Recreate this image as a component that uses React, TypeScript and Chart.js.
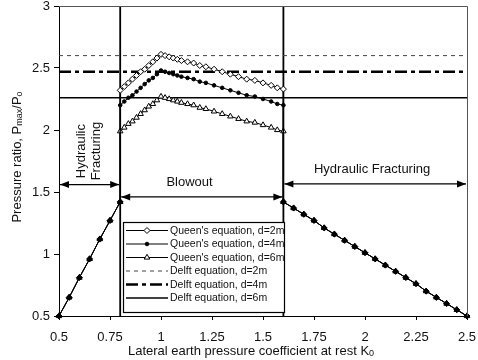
import { useEffect, useRef } from 'react';
import { Chart, registerables } from 'chart.js';

Chart.register(...registerables);

const FONT = '"Liberation Sans", Arial, Helvetica, sans-serif';

// Hydraulic fracturing zone (left, shared by all Queen's curves)
const kLeft = [0.5, 0.55, 0.6, 0.65, 0.7, 0.75, 0.8];
const pLeft = [0.5, 0.65, 0.81, 0.96, 1.12, 1.27, 1.42];

// Blowout zone, rising branch
const kRise = [0.8, 0.82, 0.84, 0.86, 0.88, 0.9, 0.92, 0.94, 0.96, 0.98, 1.0];
const q2Rise = [2.32, 2.35, 2.38, 2.41, 2.44, 2.47, 2.49, 2.52, 2.55, 2.58, 2.61];
const q4Rise = [2.2, 2.23, 2.26, 2.28, 2.31, 2.34, 2.37, 2.4, 2.42, 2.45, 2.48];
const q6Rise = [1.99, 2.02, 2.05, 2.07, 2.1, 2.13, 2.16, 2.19, 2.21, 2.24, 2.27];

// Blowout zone, falling branch
const kFall = [1.0, 1.02, 1.04, 1.06, 1.08, 1.1, 1.13, 1.16, 1.19, 1.22, 1.26, 1.3, 1.34, 1.38, 1.42, 1.46, 1.5, 1.54, 1.57, 1.6];
const q2Fall = [2.61, 2.6, 2.59, 2.58, 2.57, 2.56, 2.55, 2.54, 2.52, 2.51, 2.49, 2.47, 2.45, 2.43, 2.41, 2.4, 2.38, 2.36, 2.34, 2.33];
const q4Fall = [2.48, 2.47, 2.46, 2.45, 2.44, 2.43, 2.42, 2.41, 2.39, 2.38, 2.36, 2.34, 2.32, 2.3, 2.28, 2.27, 2.25, 2.23, 2.21, 2.2];
const q6Fall = [2.27, 2.26, 2.25, 2.24, 2.23, 2.22, 2.21, 2.2, 2.18, 2.17, 2.15, 2.13, 2.11, 2.09, 2.07, 2.06, 2.04, 2.02, 2.0, 1.99];

// Hydraulic fracturing zone (right)
const kRight = [1.6, 1.65, 1.7, 1.75, 1.8, 1.85, 1.9, 1.95, 2.0, 2.05, 2.1, 2.15, 2.2, 2.25, 2.3, 2.35, 2.4, 2.45, 2.5];
const pRight = [1.42, 1.37, 1.32, 1.27, 1.21, 1.16, 1.11, 1.06, 1.01, 0.96, 0.91, 0.86, 0.81, 0.76, 0.7, 0.65, 0.6, 0.55, 0.5];

// Delft equation levels (d = 2, 4, 6 m)
const delftLevels = [2.6, 2.47, 2.26];
const kRange = [0.5, 2.5];

// Zone boundaries
const boundaries = [0.8, 1.6];

// Zone annotations
const zoneLabels = ['Hydraulic\nFracturing', 'Blowout', 'Hydraulic Fracturing'];
const zoneLabelK = [0.648, 1.14, 2.035];
const zoneLabelP = [1.83, 1.58, 1.68];
const zoneArrowFrom = [0.5, 0.8, 1.6];
const zoneArrowTo = [0.8, 1.6, 2.5];
const zoneArrowP = [1.56, 1.46, 1.565];

const xTicks = [0.5, 0.75, 1, 1.25, 1.5, 1.75, 2, 2.25, 2.5];
const yTicks = [0.5, 1, 1.5, 2, 2.5, 3];

const seriesNames = [
  "Queen's equation, d=2m",
  "Queen's equation, d=4m",
  "Queen's equation, d=6m",
  'Delft equation, d=2m',
  'Delft equation, d=4m',
  'Delft equation, d=6m',
];

type Pt = { x: number; y: number };
const pts = (ks: number[], ps: number[]): Pt[] => ks.map((k, i) => ({ x: k, y: ps[i] }));
const queen = (rise: number[], fall: number[]): Pt[] => [
  ...pts(kLeft, pLeft),
  ...pts(kRise, rise),
  ...pts(kFall.slice(1), fall.slice(1)),
  ...pts(kRight, pRight),
];
const fills = (d: Pt[], open: string) => d.map((p) => (p.y < 1.6 ? '#000' : open));

function drawMarker(ctx: CanvasRenderingContext2D, style: string, cx: number, cy: number, r: number, fill: string) {
  ctx.save();
  ctx.setLineDash([]);
  ctx.lineWidth = 1;
  ctx.strokeStyle = '#000';
  ctx.fillStyle = fill;
  ctx.beginPath();
  if (style === 'rectRot') {
    ctx.moveTo(cx, cy - r);
    ctx.lineTo(cx + r, cy);
    ctx.lineTo(cx, cy + r);
    ctx.lineTo(cx - r, cy);
    ctx.closePath();
  } else if (style === 'triangle') {
    ctx.moveTo(cx, cy - r);
    ctx.lineTo(cx + r * 0.87, cy + r * 0.5);
    ctx.lineTo(cx - r * 0.87, cy + r * 0.5);
    ctx.closePath();
  } else {
    ctx.arc(cx, cy, r, 0, Math.PI * 2);
  }
  ctx.fill();
  ctx.stroke();
  ctx.restore();
}

function drawRich(ctx: CanvasRenderingContext2D, parts: { t: string; s: number; dy: number }[], cx: number, cy: number) {
  let total = 0;
  parts.forEach((p) => {
    ctx.font = `${p.s}px ${FONT}`;
    total += ctx.measureText(p.t).width;
  });
  let x = cx - total / 2;
  ctx.textAlign = 'left';
  ctx.textBaseline = 'middle';
  parts.forEach((p) => {
    ctx.font = `${p.s}px ${FONT}`;
    ctx.fillText(p.t, x, cy + p.dy);
    x += ctx.measureText(p.t).width;
  });
}

const overlay = {
  id: 'overlay',
  afterDatasetsDraw(chart: any) {
    const { ctx, chartArea: a, scales } = chart;
    const xs = scales.x;
    const ys = scales.y;
    ctx.save();

    // frame top and right
    ctx.strokeStyle = '#555';
    ctx.lineWidth = 1;
    ctx.setLineDash([]);
    ctx.beginPath();
    ctx.moveTo(a.left, a.top + 0.5);
    ctx.lineTo(a.right + 0.5, a.top + 0.5);
    ctx.lineTo(a.right + 0.5, a.bottom);
    ctx.stroke();

    // arrows
    ctx.strokeStyle = '#000';
    ctx.fillStyle = '#000';
    ctx.lineWidth = 1.2;
    const head = (xt: number, yy: number, dir: number) => {
      ctx.beginPath();
      ctx.moveTo(xt, yy);
      ctx.lineTo(xt - dir * 9, yy - 3.5);
      ctx.lineTo(xt - dir * 9, yy + 3.5);
      ctx.closePath();
      ctx.fill();
    };
    zoneArrowP.forEach((p, i) => {
      const yy = ys.getPixelForValue(p);
      const x0 = xs.getPixelForValue(zoneArrowFrom[i]) + 1;
      const x1 = xs.getPixelForValue(zoneArrowTo[i]) - 1;
      ctx.beginPath();
      ctx.moveTo(x0, yy);
      ctx.lineTo(x1, yy);
      ctx.stroke();
      head(x0, yy, -1);
      head(x1, yy, 1);
    });

    // zone labels
    ctx.fillStyle = '#111';
    ctx.font = `13px ${FONT}`;
    ctx.textAlign = 'center';
    ctx.textBaseline = 'middle';
    zoneLabels.forEach((t, i) => {
      const cx = xs.getPixelForValue(zoneLabelK[i]);
      const cy = ys.getPixelForValue(zoneLabelP[i]);
      const lines = t.split('\n');
      if (lines.length > 1) {
        ctx.save();
        ctx.translate(cx, cy);
        ctx.rotate(-Math.PI / 2);
        lines.forEach((ln, j) => ctx.fillText(ln, 0, (j - (lines.length - 1) / 2) * 15));
        ctx.restore();
      } else {
        ctx.fillText(t, cx, cy);
      }
    });

    // legend
    const lx = a.left + 64;
    const ly = a.top + 216;
    const lw = 161;
    const lh = 90;
    ctx.fillStyle = '#fff';
    ctx.fillRect(lx, ly, lw, lh);
    ctx.strokeStyle = '#000';
    ctx.lineWidth = 1.2;
    ctx.setLineDash([]);
    ctx.strokeRect(lx + 0.5, ly + 0.5, lw, lh);
    const dsets = chart.data.datasets;
    seriesNames.forEach((name, i) => {
      const ds = dsets[i];
      const ry = ly + 8.5 + i * 13.5;
      ctx.strokeStyle = ds.borderColor;
      ctx.lineWidth = ds.borderWidth;
      ctx.setLineDash(ds.borderDash || []);
      ctx.beginPath();
      ctx.moveTo(lx + 3, ry);
      ctx.lineTo(lx + 45, ry);
      ctx.stroke();
      ctx.setLineDash([]);
      if (ds.pointRadius > 0) {
        drawMarker(ctx, ds.pointStyle, lx + 24, ry, ds.pointRadius, ds.legendFill);
      }
      ctx.fillStyle = '#111';
      ctx.font = `10.5px ${FONT}`;
      ctx.textAlign = 'left';
      ctx.textBaseline = 'middle';
      ctx.fillText(name, lx + 47, ry + 0.5);
    });

    // axis titles
    ctx.fillStyle = '#111';
    drawRich(
      ctx,
      [
        { t: 'Lateral earth pressure coefficient at rest K', s: 13, dy: 0 },
        { t: '0', s: 9, dy: 3 },
      ],
      a.left + 192,
      351
    );
    ctx.save();
    ctx.translate(17, (a.top + a.bottom) / 2 - 4);
    ctx.rotate(-Math.PI / 2);
    drawRich(
      ctx,
      [
        { t: 'Pressure ratio, P', s: 13, dy: 0 },
        { t: 'max', s: 9, dy: 3 },
        { t: '/P', s: 13, dy: 0 },
        { t: 'o', s: 9, dy: 3 },
      ],
      0,
      0
    );
    ctx.restore();

    ctx.restore();
  },
};

export default function App() {
  const ref = useRef<HTMLCanvasElement>(null);

  useEffect(() => {
    if (!ref.current) return;
    const d2 = queen(q2Rise, q2Fall);
    const d4 = queen(q4Rise, q4Fall);
    const d6 = queen(q6Rise, q6Fall);
    const hline = (lv: number) => kRange.map((k) => ({ x: k, y: lv }));

    const chart = new Chart(ref.current, {
      type: 'scatter',
      data: {
        datasets: [
          {
            label: seriesNames[0],
            data: d2,
            showLine: true,
            borderColor: '#000',
            borderWidth: 1,
            pointStyle: 'rectRot',
            pointRadius: 3,
            pointBorderWidth: 1,
            pointBorderColor: '#000',
            pointBackgroundColor: fills(d2, '#fff'),
            legendFill: '#fff',
            clip: false,
          } as any,
          {
            label: seriesNames[1],
            data: d4,
            showLine: true,
            borderColor: '#000',
            borderWidth: 1,
            pointStyle: 'circle',
            pointRadius: 1.8,
            pointBorderWidth: 1,
            pointBorderColor: '#000',
            pointBackgroundColor: '#000',
            legendFill: '#000',
            clip: false,
          } as any,
          {
            label: seriesNames[2],
            data: d6,
            showLine: true,
            borderColor: '#000',
            borderWidth: 1,
            pointStyle: 'triangle',
            pointRadius: 3.2,
            pointBorderWidth: 1,
            pointBorderColor: '#000',
            pointBackgroundColor: fills(d6, '#fff'),
            legendFill: '#fff',
            clip: false,
          } as any,
          {
            label: seriesNames[3],
            data: hline(delftLevels[0]),
            showLine: true,
            borderColor: '#444',
            borderWidth: 1,
            borderDash: [4, 4],
            pointRadius: 0,
          } as any,
          {
            label: seriesNames[4],
            data: hline(delftLevels[1]),
            showLine: true,
            borderColor: '#000',
            borderWidth: 2.5,
            borderDash: [12, 4, 4, 4],
            pointRadius: 0,
          } as any,
          {
            label: seriesNames[5],
            data: hline(delftLevels[2]),
            showLine: true,
            borderColor: '#000',
            borderWidth: 1.6,
            pointRadius: 0,
          } as any,
          ...boundaries.map(
            (b) =>
              ({
                label: 'boundary',
                data: [
                  { x: b, y: yTicks[0] },
                  { x: b, y: yTicks[yTicks.length - 1] },
                ],
                showLine: true,
                borderColor: '#000',
                borderWidth: 1.8,
                pointRadius: 0,
              }) as any
          ),
        ],
      },
      options: {
        animation: false,
        responsive: false,
        devicePixelRatio: 1,
        layout: { padding: { top: 6, right: 11, left: 0, bottom: 0 } },
        plugins: { legend: { display: false }, tooltip: { enabled: false } },
        scales: {
          x: {
            type: 'linear',
            min: kRange[0],
            max: kRange[1],
            afterBuildTicks: (s: any) => {
              s.ticks = xTicks.map((v) => ({ value: v }));
            },
            afterFit: (s: any) => {
              s.height = 44;
              s.paddingLeft = 0;
              s.paddingRight = 0;
            },
            ticks: {
              callback: (v: any) => String(v),
              font: { family: FONT, size: 13 },
              color: '#111',
              padding: 10,
              maxRotation: 0,
              autoSkip: false,
            },
            grid: { drawOnChartArea: false, drawTicks: true, tickLength: 4, color: '#000' },
            border: { display: true, color: '#000', width: 1 },
          },
          y: {
            type: 'linear',
            min: yTicks[0],
            max: yTicks[yTicks.length - 1],
            afterBuildTicks: (s: any) => {
              s.ticks = yTicks.map((v) => ({ value: v }));
            },
            afterFit: (s: any) => {
              s.width = 59;
              s.paddingTop = 0;
              s.paddingBottom = 0;
            },
            ticks: {
              callback: (v: any) => String(v),
              font: { family: FONT, size: 13 },
              color: '#111',
              padding: 4,
              autoSkip: false,
            },
            grid: { drawOnChartArea: false, drawTicks: true, tickLength: 5, color: '#000' },
            border: { display: true, color: '#000', width: 1 },
          },
        },
      } as any,
      plugins: [overlay],
    });
    return () => chart.destroy();
  }, []);

  return (
    <div style={{ position: 'fixed', left: 0, top: 0, width: 478, height: 360, background: '#fff' }}>
      <canvas ref={ref} width={478} height={360} style={{ display: 'block' }} />
    </div>
  );
}
